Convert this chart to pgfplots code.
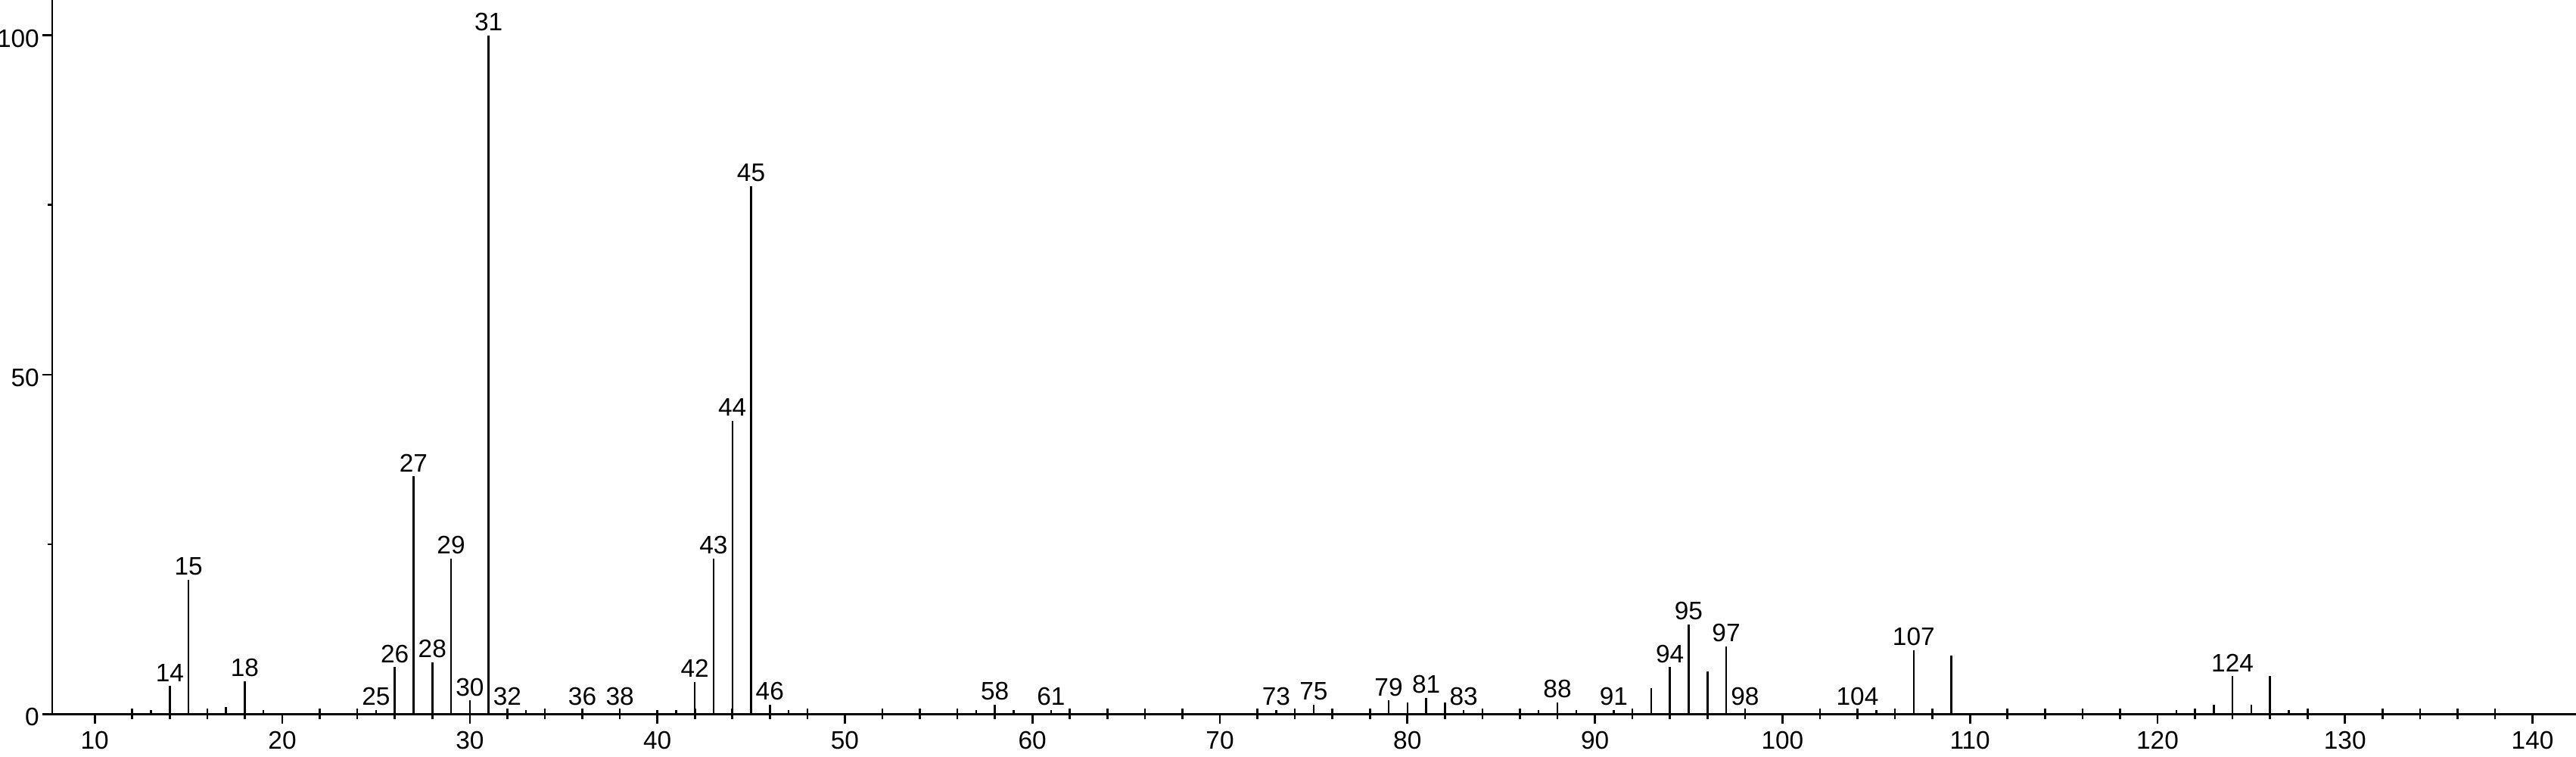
\documentclass[border=0pt]{standalone}
\usepackage{fontspec}
\setmainfont{Liberation Sans}
\usepackage{pgfplots}
\pgfplotsset{compat=1.18}

% mass spectrum: m/z vs relative intensity
\pgfplotstableread{
mz  int
13  0.6
14  4.16
15  19.8
17  1.0
18  4.83
19  0.6
25  0.6
26  6.9
27  35.0
28  7.6
29  22.9
30  2.0
31  100
32  0.6
33  0.6
36  0.6
38  0.6
40  0.6
41  0.6
42  4.75
43  22.9
44  43.2
45  77.8
46  1.35
47  0.6
57  0.6
58  1.37
59  0.6
61  0.6
73  0.6
75  1.37
79  2.0
80  1.74
81  2.4
82  1.74
83  0.6
87  0.6
88  1.74
89  0.6
91  0.6
93  3.8
94  6.9
95  13.2
96  6.25
97  10.0
98  0.6
104 0.6
105 0.6
107 9.4
109 8.65
121 0.6
123 1.37
124 5.6
125 1.37
126 5.6
127 0.6
}\peaks

\begin{document}
\begin{tikzpicture}
\begin{axis}[
  name=ax,
  scale only axis,
  width=33.35cm, height=9.433cm,
  xmin=7.73, xmax=142.32,
  ymin=0, ymax=105.2,
  axis x line*=bottom, axis y line*=left,
  axis line style={-, line width=0.85pt},
  xtick={10,20,...,140},
  ytick={0,50,100},
  minor ytick={25,75},
  tick align=outside,
  xtick pos=bottom, ytick pos=left,
  major tick length=0.13cm,
  minor tick length=0.06cm,
  every tick/.style={black, line width=0.75pt},
  extra x ticks={12,14,16,18,22,24,26,28,32,34,36,38,42,44,46,48,52,54,56,58,62,64,66,68,72,74,76,78,82,84,86,88,92,94,96,98,102,104,106,108,112,114,116,118,122,124,126,128,132,134,136,138},
  extra x tick labels={},
  extra x tick style={tick align=center, major tick length=0.14cm},
  /pgf/number format/assume math mode=true,
  tick label style={font=\fontsize{9.5}{11}\selectfont},
  xticklabel style={inner sep=1pt, yshift=-0.06cm},
  yticklabel style={inner sep=1pt, yshift=-0.04cm},
  clip=false,
]
\addplot[ycomb, black, line width=0.7pt, no marks] table[x=mz, y=int] {\peaks};
\addplot[draw=none, no marks, point meta=explicit symbolic,
  nodes near coords,
  nodes near coords style={font=\fontsize{9.5}{11}\selectfont, anchor=south, inner sep=1.5pt}]
  coordinates {
  (14,4.16) [14] (15,19.8) [15] (18,4.83) [18] (25,0.6) [25] (26,6.9) [26]
  (27,35.0) [27] (28,7.6) [28] (29,22.9) [29] (30,2.0) [30] (31,100) [31]
  (32,0.6) [32] (36,0.6) [36] (38,0.6) [38] (42,4.75) [42] (43,22.9) [43]
  (44,43.2) [44] (45,77.8) [45] (46,1.35) [46] (58,1.37) [58] (61,0.6) [61]
  (73,0.6) [73] (75,1.37) [75] (79,2.0) [79] (81,2.4) [81] (83,0.6) [83]
  (88,1.74) [88] (91,0.6) [91] (94,6.9) [94] (95,13.2) [95] (97,10.0) [97]
  (98,0.6) [98] (104,0.6) [104] (107,9.4) [107] (124,5.6) [124]
  };
\end{axis}
\pgfresetboundingbox
\path[use as bounding box] ([xshift=-0.69cm, yshift=-0.567cm]ax.south west) rectangle (ax.north east);
\end{tikzpicture}
\end{document}
